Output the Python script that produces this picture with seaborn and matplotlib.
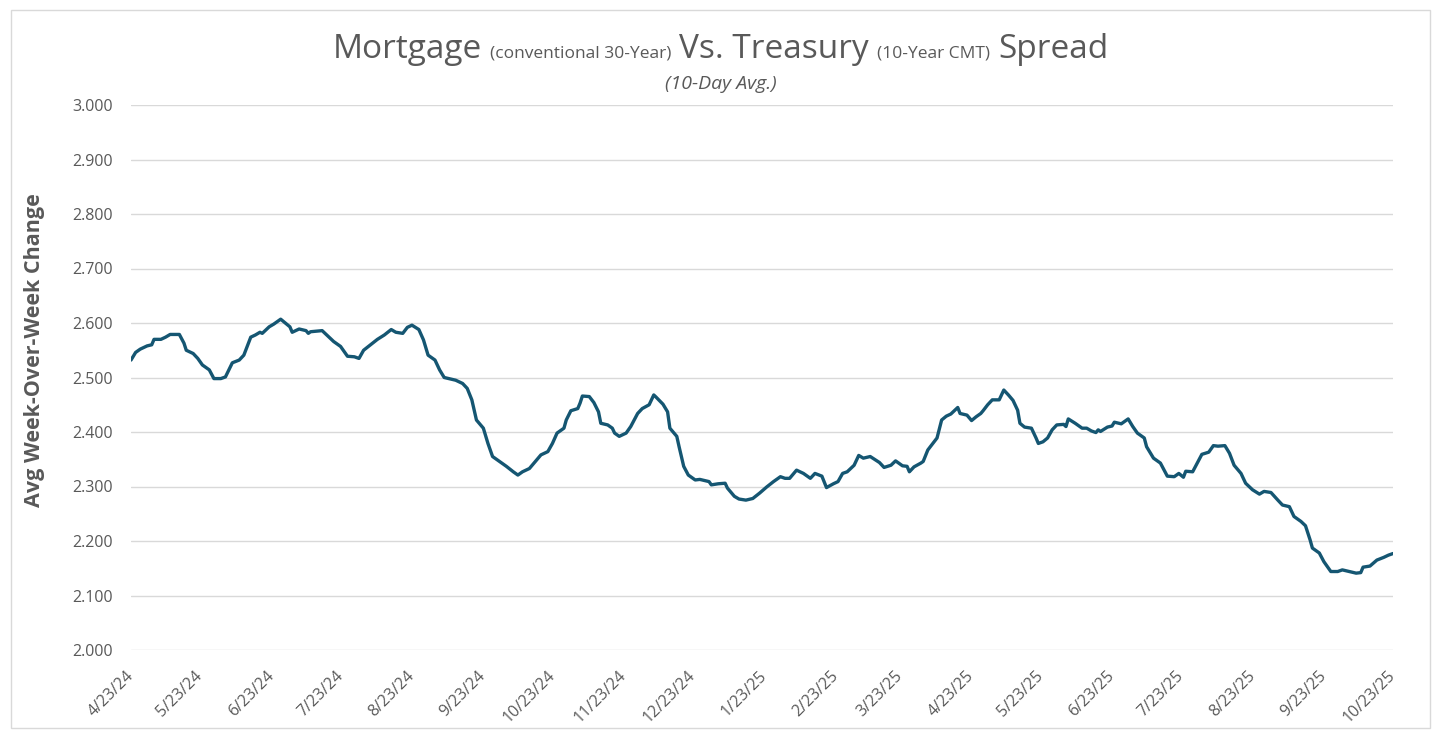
import numpy as np
import pandas as pd
import matplotlib
matplotlib.use("Agg")
import matplotlib.pyplot as plt
import matplotlib.dates as mdates
from matplotlib.patches import Rectangle
import seaborn as sns

# ---- data ----
start_date = "2024-04-23"
end_date = "2025-10-23"
day_offset = [0, 2, 4, 7, 9, 10, 13, 15, 17, 21, 23, 24, 27, 29, 31, 34, 36, 39, 41, 44,
              47, 49, 50, 52, 54, 56, 57, 60, 62, 65, 67, 69, 70, 73, 76, 77, 78, 83, 86, 88,
              91, 94, 97, 99, 101, 104, 107, 110, 113, 115, 118, 120, 122, 125, 127, 129, 132, 134, 136, 141,
              144, 146, 148, 150, 153, 155, 157, 160, 163, 166, 168, 170, 173, 175, 178, 181, 183, 185, 188, 189,
              191, 194, 195, 196, 199, 201, 203, 204, 207, 209, 210, 212, 215, 217, 220, 222, 225, 227, 228, 231,
              233, 234, 237, 238, 240, 242, 245, 247, 251, 252, 255, 258, 259, 262, 264, 267, 270, 273, 276, 279,
              282, 284, 286, 289, 292, 295, 297, 300, 302, 305, 307, 309, 311, 314, 316, 318, 321, 325, 327, 330,
              332, 335, 337, 338, 340, 343, 344, 346, 348, 350, 352, 354, 356, 359, 360, 363, 365, 367, 369, 370,
              372, 374, 377, 379, 381, 383, 385, 386, 388, 391, 393, 394, 396, 398, 400, 402, 405, 406, 407, 410,
              413, 415, 417, 419, 420, 421, 424, 426, 427, 430, 433, 435, 437, 440, 441, 444, 447, 450, 453, 455,
              457, 458, 461, 463, 465, 468, 470, 472, 475, 477, 479, 482, 484, 487, 490, 492, 495, 498, 500, 503,
              505, 508, 510, 512, 513, 516, 518, 521, 524, 526, 529, 532, 534, 535, 538, 541, 544, 546, 548]
spread = [2.532, 2.546, 2.552, 2.558, 2.560, 2.570, 2.570, 2.574, 2.579, 2.579, 2.563, 2.550, 2.544, 2.535, 2.523, 2.514, 2.498, 2.498, 2.501, 2.527,
          2.532, 2.541, 2.552, 2.574, 2.578, 2.583, 2.581, 2.593, 2.598, 2.607, 2.600, 2.593, 2.583, 2.589, 2.586, 2.581, 2.584, 2.586, 2.574, 2.566,
          2.557, 2.539, 2.538, 2.535, 2.550, 2.560, 2.570, 2.578, 2.588, 2.583, 2.581, 2.592, 2.596, 2.588, 2.569, 2.541, 2.532, 2.514, 2.500, 2.495,
          2.489, 2.480, 2.459, 2.422, 2.407, 2.379, 2.355, 2.346, 2.337, 2.327, 2.321, 2.327, 2.333, 2.343, 2.358, 2.364, 2.379, 2.398, 2.407, 2.422,
          2.439, 2.443, 2.453, 2.466, 2.465, 2.454, 2.437, 2.416, 2.413, 2.407, 2.398, 2.392, 2.398, 2.410, 2.434, 2.443, 2.450, 2.468, 2.464, 2.451,
          2.437, 2.407, 2.392, 2.373, 2.337, 2.321, 2.312, 2.313, 2.309, 2.303, 2.305, 2.306, 2.297, 2.282, 2.277, 2.275, 2.278, 2.288, 2.299, 2.309,
          2.318, 2.315, 2.315, 2.330, 2.324, 2.315, 2.324, 2.319, 2.298, 2.305, 2.309, 2.324, 2.327, 2.339, 2.357, 2.352, 2.355, 2.344, 2.335, 2.339,
          2.347, 2.338, 2.337, 2.327, 2.336, 2.343, 2.346, 2.367, 2.378, 2.389, 2.422, 2.429, 2.433, 2.445, 2.434, 2.431, 2.421, 2.428, 2.434, 2.439,
          2.450, 2.459, 2.459, 2.477, 2.468, 2.458, 2.440, 2.416, 2.409, 2.407, 2.389, 2.379, 2.382, 2.389, 2.404, 2.413, 2.414, 2.410, 2.424, 2.416,
          2.407, 2.407, 2.402, 2.399, 2.404, 2.401, 2.409, 2.411, 2.418, 2.415, 2.424, 2.410, 2.398, 2.389, 2.373, 2.352, 2.343, 2.319, 2.318, 2.324,
          2.317, 2.328, 2.327, 2.343, 2.359, 2.363, 2.375, 2.374, 2.375, 2.361, 2.339, 2.324, 2.306, 2.294, 2.286, 2.291, 2.289, 2.275, 2.266, 2.263,
          2.245, 2.236, 2.228, 2.202, 2.187, 2.178, 2.162, 2.144, 2.144, 2.147, 2.144, 2.141, 2.142, 2.152, 2.154, 2.165, 2.170, 2.174, 2.177]
y_ticks = [2.0, 2.1, 2.2, 2.3, 2.4, 2.5, 2.6, 2.7, 2.8, 2.9, 3.0]
title_parts = [("Mortgage", "big"), ("(conventional 30-Year)", "small"), ("Vs. Treasury", "big"),
               ("(10-Year CMT)", "small"), ("Spread", "big")]
subtitle = "(10-Day Avg.)"
y_label = "Avg Week-Over-Week Change"

# ---- styling ----
W, H = 1437, 734
TEXT = "#595959"
GRID = "#d9d9d9"
LINE = "#155672"
FONT = "Open Sans"

sns.set_theme(style="white")
plt.rcParams["font.family"] = [FONT, "DejaVu Sans"]

df = pd.DataFrame({
    "date": pd.to_datetime(start_date) + pd.to_timedelta(day_offset, unit="D"),
    "spread": spread,
})

fig = plt.figure(figsize=(W / 100, H / 100), dpi=100)
fig.patch.set_facecolor("white")
ax = fig.add_axes([131 / W, 1 - 650 / H, (1393 - 131) / W, (650 - 105) / H])

sns.lineplot(data=df, x="date", y="spread", ax=ax, color=LINE, linewidth=2.4)

ax.set_xlim(pd.to_datetime(start_date), pd.to_datetime(end_date))
ax.set_ylim(2.0, 3.0)
ax.set_yticks(y_ticks)
ax.set_yticklabels([f"{v:.3f}" for v in y_ticks], color=TEXT, fontsize=11.5)
ax.yaxis.grid(True, color=GRID, linewidth=1)
ax.xaxis.grid(False)
for s in ax.spines.values():
    s.set_visible(False)
ax.tick_params(axis="y", length=0, pad=13)
ax.tick_params(axis="x", length=0, pad=17)

ax.xaxis.set_major_locator(mdates.MonthLocator(bymonthday=23))
ax.xaxis.set_major_formatter(matplotlib.ticker.FuncFormatter(
    lambda x, pos: (lambda d: f"{d.month}/{d.day}/{d.year % 100}")(mdates.num2date(x))))
for lbl in ax.get_xticklabels():
    lbl.set_rotation(45)
    lbl.set_ha("right")
    lbl.set_va("center")
    lbl.set_rotation_mode("anchor")
    lbl.set_color(TEXT)
    lbl.set_fontsize(11.5)

ax.set_xlabel("")
ax.set_ylabel("")
fig.text(35 / W, 1 - 350 / H, y_label, rotation=90, ha="center", va="center",
         fontsize=15.5, fontweight="bold", color=TEXT)

# title with mixed sizes
sizes = {"big": 24, "small": 12.5}
renderer = fig.canvas.get_renderer()
texts = []
for txt, kind in title_parts:
    t = fig.text(0, 0, txt, fontsize=sizes[kind], color=TEXT, va="baseline", ha="left")
    texts.append(t)
widths = [t.get_window_extent(renderer).width for t in texts]
gap = 8
total = sum(widths) + gap * (len(widths) - 1)
x = (W / 2 + 2) - total / 2
base_y = 1 - 58 / H
for t, w in zip(texts, widths):
    t.set_position((x / W, base_y))
    x += w + gap

fig.text(721 / W, 1 - 84 / H, subtitle, ha="center", va="center", fontsize=14,
         style="italic", color=TEXT)

fig.patches.append(Rectangle((11 / W, 1 - 728 / H), (1430 - 11) / W, (728 - 10) / H,
                             transform=fig.transFigure, fill=False, edgecolor=GRID,
                             linewidth=1))

fig.savefig("out.png", dpi=100, facecolor="white")
